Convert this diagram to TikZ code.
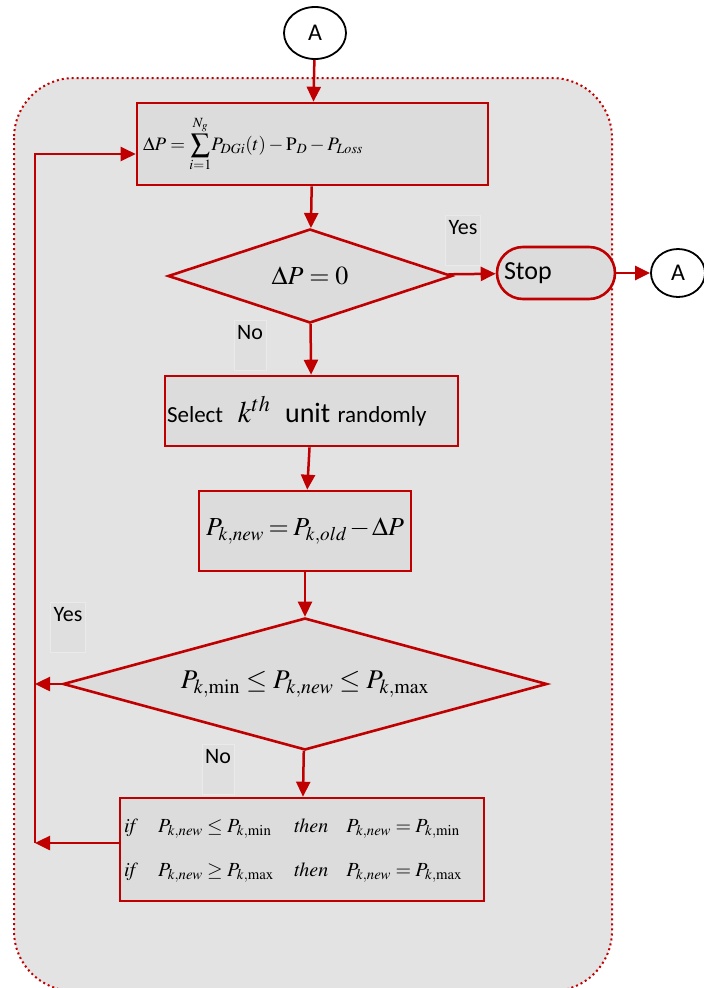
\documentclass[tikz,border=0pt]{standalone}
\usepackage{mathptmx}
\usepackage[no-math]{fontspec}
\setmainfont{Carlito}
\usepackage{tikz}
\usetikzlibrary{shapes.geometric,arrows.meta,positioning}
\definecolor{flowred}{HTML}{C00000}
\definecolor{panelgray}{HTML}{E3E3E3}
\definecolor{boxgray}{HTML}{DCDCDC}
\definecolor{taggray}{HTML}{DFDFDF}
\definecolor{tagedge}{HTML}{EAEAEA}

\begin{document}
\begin{tikzpicture}[
  x=1pt,
  y=-1pt,
  every node/.style={font=\fontsize{22}{26}\selectfont},
  panel/.style={fill=panelgray, draw=flowred, line width=2pt, dash pattern=on 2pt off 3pt, rounded corners=60pt},
  procbox/.style={rectangle, draw=flowred, fill=boxgray, line width=2.6pt, inner ysep=0pt, align=left},
  decide/.style={diamond, draw=flowred, fill=boxgray, line width=2.6pt, inner sep=0pt, aspect=3},
  stopbox/.style={rectangle, rounded corners=26pt, draw=flowred, fill=boxgray, line width=2.6pt, minimum width=118pt, minimum height=52pt, inner xsep=7pt, text width=104pt, align=left},
  conn/.style={ellipse, draw=black, fill=white, line width=1.8pt, inner sep=0pt, font=\fontsize{24}{28}\selectfont},
  tag/.style={fill=taggray, draw=tagedge, line width=0.6pt, inner xsep=3pt, inner ysep=3pt, text height=16pt, text depth=28pt},
  flow/.style={draw=flowred, line width=2.5pt, -{Triangle[length=15pt,width=14pt]}}
]
\useasboundingbox (0,0) rectangle (704,988);
\clip (0,0) rectangle (704,988);
\fill[white] (0,0) rectangle (704,988);
\draw[panel] (14,78) rectangle (612,991);

\node[conn, minimum width=62pt, minimum height=52pt] (A1) at (315,33) {A};
\node[procbox, minimum width=351pt, minimum height=82pt, inner xsep=6pt, text width=339pt, font=\fontsize{19}{22}\selectfont] (calc) at (312.5,144) {$\displaystyle \Delta P=\sum_{i=1}^{N_g}\!P_{DGi}(t)-\mathrm{P}_D-P_{Loss}$};
\node[decide, minimum width=284pt, minimum height=94pt, font=\fontsize{26}{30}\selectfont] (zero) at (310,276) {$\Delta P=0$\hspace{46pt}};
\node[tag] (yes1) at (463,240) {Yes};
\node[stopbox, font=\fontsize{26}{30}\selectfont] (stop) at (556,273) {Stop};
\node[conn, minimum width=54pt, minimum height=48pt] (A2) at (678,273) {A};
\node[tag] (no1) at (250,345) {No};
\node[procbox, minimum width=293pt, minimum height=70pt, inner xsep=2pt, text width=289pt] (pick) at (311.5,411) {\fontsize{23}{26}\selectfont Select\ \ {\fontsize{30}{32}\selectfont$k^{th}$}\ \ {\fontsize{28}{30}\selectfont unit} randomly};
\node[procbox, minimum width=212pt, minimum height=80pt, inner xsep=7pt, text width=198pt, font=\fontsize{26}{30}\selectfont] (upd) at (305,531) {$P_{k,new}=P_{k,old}-\Delta P$};
\node[decide, minimum width=484pt, minimum height=132pt, font=\fontsize{27}{30}\selectfont] (bounds) at (305,684) {$P_{k,\min}\le P_{k,new}\le P_{k,\max}$\hspace{18pt}};
\node[tag] (yes2) at (68,627) {Yes};
\node[tag] (no2) at (218,769) {No};
\node[procbox, minimum width=364pt, minimum height=103pt, inner xsep=4pt, text width=356pt, font=\fontsize{20}{24}\selectfont] (clamp) at (302,849.5) {%
  \begin{tabular}{@{}l@{\hspace{20pt}}l@{\hspace{20pt}}l@{\hspace{18pt}}l@{}}
  $\mathit{if}$ & $P_{k,new}\le P_{k,\min}$ & $\mathit{then}$ & $P_{k,new}=P_{k,\min}$\\[20pt]
  $\mathit{if}$ & $P_{k,new}\ge P_{k,\max}$ & $\mathit{then}$ & $P_{k,new}=P_{k,\max}$
  \end{tabular}};

\coordinate (railtop) at (35,154);
\coordinate (railbot) at (35,843);

\draw[flow] (A1) -- (calc);
\draw[flow] (calc) -- (zero);
\draw[flow] (zero) -- (stop);
\draw[flow] (stop) -- (A2);
\draw[flow] (zero) -- (pick);
\draw[flow] (pick) -- (upd);
\draw[flow] (upd) -- (bounds);
\draw[flow] (bounds) -- (clamp);
\draw[flow] (bounds.west) -- (bounds.west -| railtop);
\draw[flow] (clamp.west |- railbot) -- (railbot);
\draw[flow] (railbot) -- (railtop) -- (railtop -| calc.west);
\end{tikzpicture}
\end{document}
